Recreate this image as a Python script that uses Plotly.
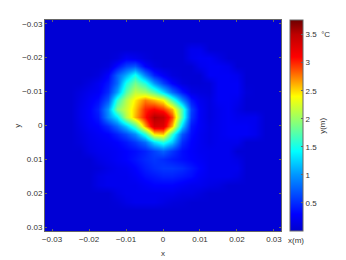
import plotly.graph_objects as go

x_m = [-0.0325, -0.03, -0.0275, -0.025, -0.0225, -0.02, -0.0175, -0.015, -0.0125, -0.01, -0.0075, -0.005, -0.0025, 0.0,
       0.0025, 0.005, 0.0075, 0.01, 0.0125, 0.015, 0.0175, 0.02, 0.0225, 0.025, 0.0275, 0.03, 0.0325]
y_m = list(x_m)

B = 0.05
temperature = [
 [B]*27,
 [B]*27,
 [B]*27,
 [B]*27,
 [B,B,B,B,B,B,B,B,B,B,B,B,B,B,B,B,.2,.2,B,B,B,B,B,B,B,B,B],
 [B,B,B,B,B,B,B,B,.1,.25,.2,.1,B,B,B,B,.2,.25,.25,.15,B,B,B,B,B,B,B],
 [B,B,B,B,B,B,B,.1,.35,.6,.7,.3,.12,B,B,B,B,.2,.25,.25,.2,B,B,B,B,B,B],
 [B,B,B,B,B,B,.1,.3,.75,1.1,1.5,.9,.45,.25,.1,B,B,B,.25,.25,.25,.2,B,B,B,B,B],
 [B,B,B,B,B,.12,.22,.4,.8,1.5,1.85,1.55,1.0,.6,.3,.1,B,B,.08,.25,.25,.25,B,B,B,B,B],
 [B,B,B,B,.12,.2,.25,.5,1.05,1.75,2.15,2.05,1.75,1.3,.8,.4,.15,.1,.08,.25,.25,.25,.08,B,B,B,B],
 [B,B,B,B,.15,.25,.35,.7,1.6,2.1,2.45,2.75,2.6,2.4,1.7,.95,.4,.2,.12,.25,.25,.2,B,B,B,B,B],
 [B,B,B,B,.18,.28,.45,1.0,1.9,2.2,2.55,3.0,3.1,2.95,2.6,1.7,.6,.25,.12,.2,.25,.15,B,B,B,B,B],
 [B,B,B,B,.18,.28,.4,.95,1.35,2.1,2.6,3.05,3.55,3.45,2.9,1.7,.55,.25,.12,.2,.25,.2,.2,.2,B,B,B],
 [B,B,B,B,.15,.25,.3,.5,.8,1.2,1.7,2.65,3.35,3.3,2.6,1.25,.4,.25,.15,.2,.25,.25,.25,.2,B,B,B],
 [B,B,B,B,.12,.2,.25,.3,.45,.65,.95,1.55,2.45,2.55,1.6,.7,.35,.22,.15,.2,.25,.25,.25,.2,B,B,B],
 [B,B,B,B,.1,.18,.22,.25,.3,.4,.55,.8,1.3,1.55,1.2,.5,.3,.22,.15,.2,.2,.2,B,B,B,B,B],
 [B,B,B,B,B,.15,.2,.22,.25,.3,.35,.45,.6,.75,.55,.35,.28,.22,.2,.2,.2,B,B,B,B,B,B],
 [B,B,B,B,B,B,.15,.2,.25,.3,.38,.48,.55,.5,.42,.35,.3,.25,.2,.2,.2,.15,B,B,B,B,B],
 [B,B,B,B,B,B,.08,.15,.2,.22,.3,.42,.5,.55,.55,.5,.4,.3,.2,.2,.2,.2,B,B,B,B,B],
 [B,B,B,B,B,B,.15,.2,.2,.2,.25,.35,.4,.45,.45,.4,.35,.25,.2,.2,.2,.15,B,B,B,B,B],
 [B,B,B,B,B,B,.15,.2,.2,.2,.2,.25,.3,.3,.3,.25,.2,.2,.15,.12,B,B,B,B,B,B,B],
 [B,B,B,B,B,B,B,B,.15,.2,.2,.2,.2,.2,.2,.15,.15,.1,B,B,B,B,B,B,B,B,B],
 [B,B,B,B,B,B,B,B,.08,.15,.2,.2,.2,.15,.1,.08,B,B,B,B,B,B,B,B,B,B,B],
 [B]*27,
 [B]*27,
 [B]*27,
 [B]*27,
]

temp_min = 0.0
temp_max = 3.76
color_stops = [
 (0.0, (0, 0, 205)), (0.3, (0, 0, 255)), (1.0, (0, 150, 255)), (1.42, (0, 255, 255)),
 (1.9, (128, 255, 128)), (2.4, (255, 255, 0)), (2.9, (255, 70, 0)), (3.1, (255, 0, 0)),
 (3.5, (190, 0, 0)), (3.76, (110, 0, 0)),
]
colorscale = [[v / temp_max, f"rgb{c}"] for v, c in color_stops]

ticks = [-0.03, -0.02, -0.01, 0, 0.01, 0.02, 0.03]
tick_labels = ["\u22120.03", "\u22120.02", "\u22120.01", "0", "0.01", "0.02", "0.03"]
cb_ticks = [0.5, 1, 1.5, 2, 2.5, 3, 3.5]
cb_labels = ["0.5", "1", "1.5", "2", "2.5", "3", "3.5  \u00b0C"]

FONT = "Liberation Sans"
TXT = "#333333"
FRAME = "#666666"

fig = go.Figure(go.Heatmap(
    x=x_m, y=y_m, z=temperature, zmin=temp_min, zmax=temp_max, zsmooth="best",
    colorscale=colorscale,
    colorbar=dict(
        x=1.038, xanchor="left", xref="paper", y=0, yanchor="bottom", yref="paper", len=1, lenmode="fraction",
        thickness=13, thicknessmode="pixels", xpad=0, ypad=0,
        outlinewidth=1, outlinecolor=FRAME, borderwidth=0,
        tickmode="array", tickvals=cb_ticks, ticktext=cb_labels,
        ticks="inside", ticklen=2, tickcolor=FRAME,
        tickfont=dict(family=FONT, size=8, color=TXT),
    ),
))
axis_common = dict(
    tickmode="array", tickvals=ticks, ticktext=tick_labels, ticks="inside", ticklen=2,
    tickcolor=FRAME, tickwidth=1, mirror="ticks", showline=True, linecolor=FRAME, linewidth=1,
    showgrid=False, zeroline=False, automargin=False, tickfont=dict(family=FONT, size=8, color=TXT),
)
fig.update_layout(
    width=338, height=252, autosize=False, paper_bgcolor="white", plot_bgcolor="white",
    margin=dict(l=37, r=65, t=11.5, b=29, autoexpand=False),
    xaxis=dict(range=[-0.0319, 0.0319], **axis_common),
    yaxis=dict(range=[0.0311, -0.0311], **axis_common),
    annotations=[
        dict(text="x", xref="x", yref="paper", x=0, y=-0.075, xanchor="center", yanchor="top",
             showarrow=False, font=dict(family=FONT, size=8, color=TXT)),
        dict(text="y", textangle=-90, xref="paper", yref="y", x=-0.118, y=0, xanchor="center", yanchor="middle",
             showarrow=False, font=dict(family=FONT, size=8, color=TXT)),
        dict(text="x(m)", xref="paper", yref="paper", x=1.064, y=-0.012, xanchor="center", yanchor="top",
             showarrow=False, font=dict(family=FONT, size=8, color=TXT)),
        dict(text="y(m)", textangle=-90, xref="paper", yref="paper", x=1.175, y=0.5, xanchor="center", yanchor="middle",
             showarrow=False, font=dict(family=FONT, size=8, color=TXT)),
    ],
)
fig.write_html("out.html")
